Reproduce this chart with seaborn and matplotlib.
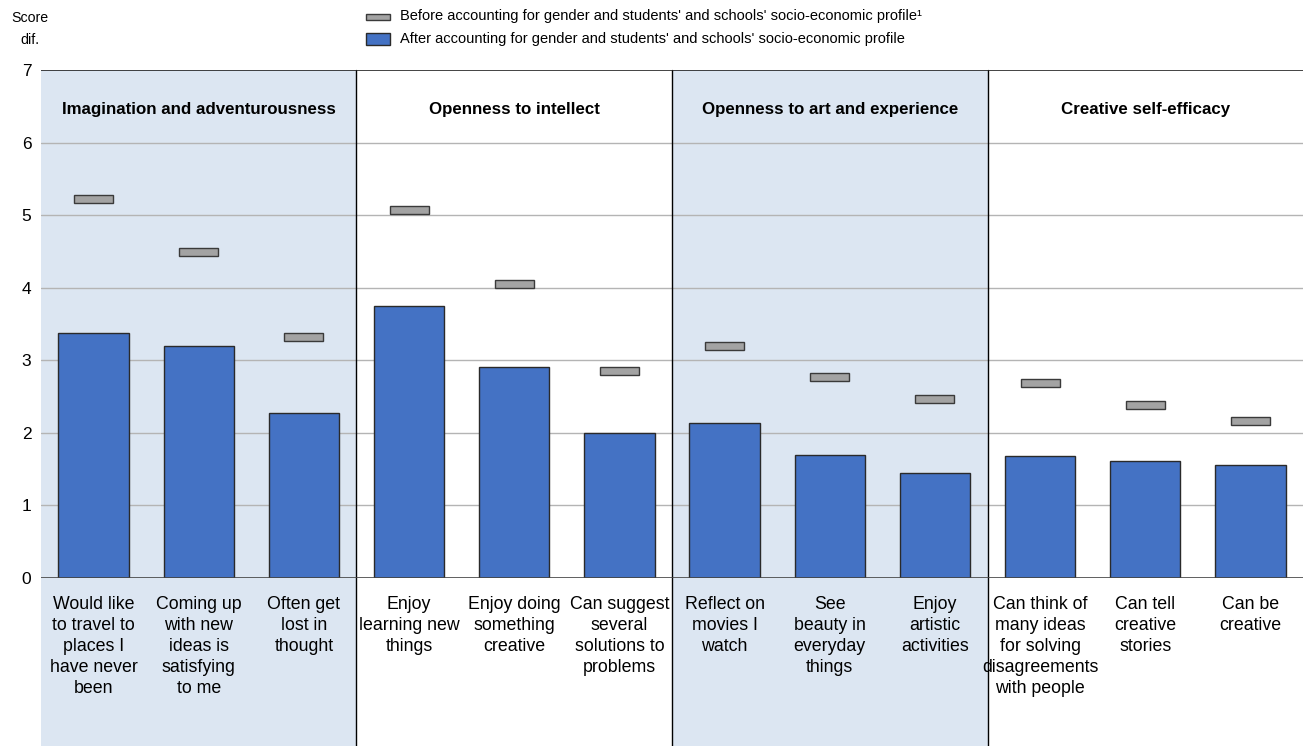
import matplotlib
matplotlib.use("Agg")
import matplotlib.pyplot as plt
import seaborn as sns
import pandas as pd
import numpy as np
from matplotlib.patches import Rectangle

# data
items = ["Would like\nto travel to\nplaces I\nhave never\nbeen",
         "Coming up\nwith new\nideas is\nsatisfying\nto me",
         "Often get\nlost in\nthought",
         "Enjoy\nlearning new\nthings",
         "Enjoy doing\nsomething\ncreative",
         "Can suggest\nseveral\nsolutions to\nproblems",
         "Reflect on\nmovies I\nwatch",
         "See\nbeauty in\neveryday\nthings",
         "Enjoy\nartistic\nactivities",
         "Can think of\nmany ideas\nfor solving\ndisagreements\nwith people",
         "Can tell\ncreative\nstories",
         "Can be\ncreative"]
after = [3.38, 3.20, 2.27, 3.75, 2.91, 2.00, 2.14, 1.69, 1.45, 1.68, 1.61, 1.56]
before = [5.22, 4.49, 3.32, 5.07, 4.05, 2.85, 3.20, 2.77, 2.47, 2.69, 2.38, 2.16]
groups = ["Imagination and adventurousness", "Openness to intellect",
          "Openness to art and experience", "Creative self-efficacy"]
group_size = [3, 3, 3, 3]
legend_labels = ["Before accounting for gender and students' and schools' socio-economic profile\u00b9",
                 "After accounting for gender and students' and schools' socio-economic profile"]

sns.set_style("white")
plt.rcParams['font.family'] = ['Liberation Sans', 'DejaVu Sans']
plt.rcParams['text.color'] = 'black'
plt.rcParams['xtick.color'] = 'black'
plt.rcParams['ytick.color'] = 'black'

blue = "#4472c4"
grey = "#a3a3a3"
shade = "#dce6f2"

df = pd.DataFrame({"item": items, "after": after, "before": before})

fig = plt.figure(figsize=(13.03, 7.46), dpi=100)
ax = fig.add_axes([41/1303, (746-578)/746, 1 - 41/1303, 508/746])

# panel shading + separators
start = 0
for i, (g, n) in enumerate(zip(groups, group_size)):
    x0, x1 = start - 0.5, start + n - 0.5
    if i % 2 == 0:
        ax.axvspan(x0, x1, ymin=-0.331, ymax=1, color=shade, clip_on=False, zorder=0, lw=0)
    if i > 0:
        ax.axvline(x0, ymin=-0.331, ymax=1, color="black", lw=1, clip_on=False, zorder=3)
    ax.text((x0 + x1) / 2, 6.46, g, ha="center", va="center", fontsize=12.2, fontweight="bold")
    start += n

for v in range(1, 7):
    ax.axhline(v, color="#b4b4b4", lw=1, zorder=1)
ax.axhline(7, color="#222222", lw=1.2, zorder=3)
ax.axhline(0, color="#444444", lw=1.2, zorder=3)

sns.barplot(data=df, x="item", y="after", color=blue, width=0.67, saturation=1,
            edgecolor="#2a2a2a", linewidth=1, ax=ax, zorder=2)
xs = np.arange(len(items))
ax.bar(xs, 0.11, bottom=np.array(before) - 0.055, width=0.37, color=grey,
       edgecolor="#3a3a3a", linewidth=1, zorder=2)

ax.set_xlim(-0.5, len(items) - 0.5)
ax.set_ylim(0, 7)
ax.set_yticks(range(0, 8))
ax.set_xlabel("")
ax.set_ylabel("")
ax.tick_params(axis="y", length=0, labelsize=12.5, pad=7)
ax.tick_params(axis="x", length=0, labelsize=12.8, pad=13)
for lab in ax.get_xticklabels():
    lab.set_linespacing(1.3)
for s in ax.spines.values():
    s.set_visible(False)

fig.text(30/1303, 1 - 18/746, "Score", ha="center", va="center", fontsize=10.2)
fig.text(30/1303, 1 - 40/746, "dif.", ha="center", va="center", fontsize=10.2)

# legend drawn by hand
fig.add_artist(Rectangle((366/1303, 1 - 20/746), 24/1303, 6/746, transform=fig.transFigure,
                         facecolor=grey, edgecolor="#3a3a3a", lw=1))
fig.add_artist(Rectangle((366/1303, 1 - 45/746), 24/1303, 12/746, transform=fig.transFigure,
                         facecolor=blue, edgecolor="#2a2a2a", lw=1))
fig.text(400/1303, 1 - 16/746, legend_labels[0], va="center", fontsize=10.5)
fig.text(400/1303, 1 - 39/746, legend_labels[1], va="center", fontsize=10.5)

fig.savefig("out.png", dpi=100)
